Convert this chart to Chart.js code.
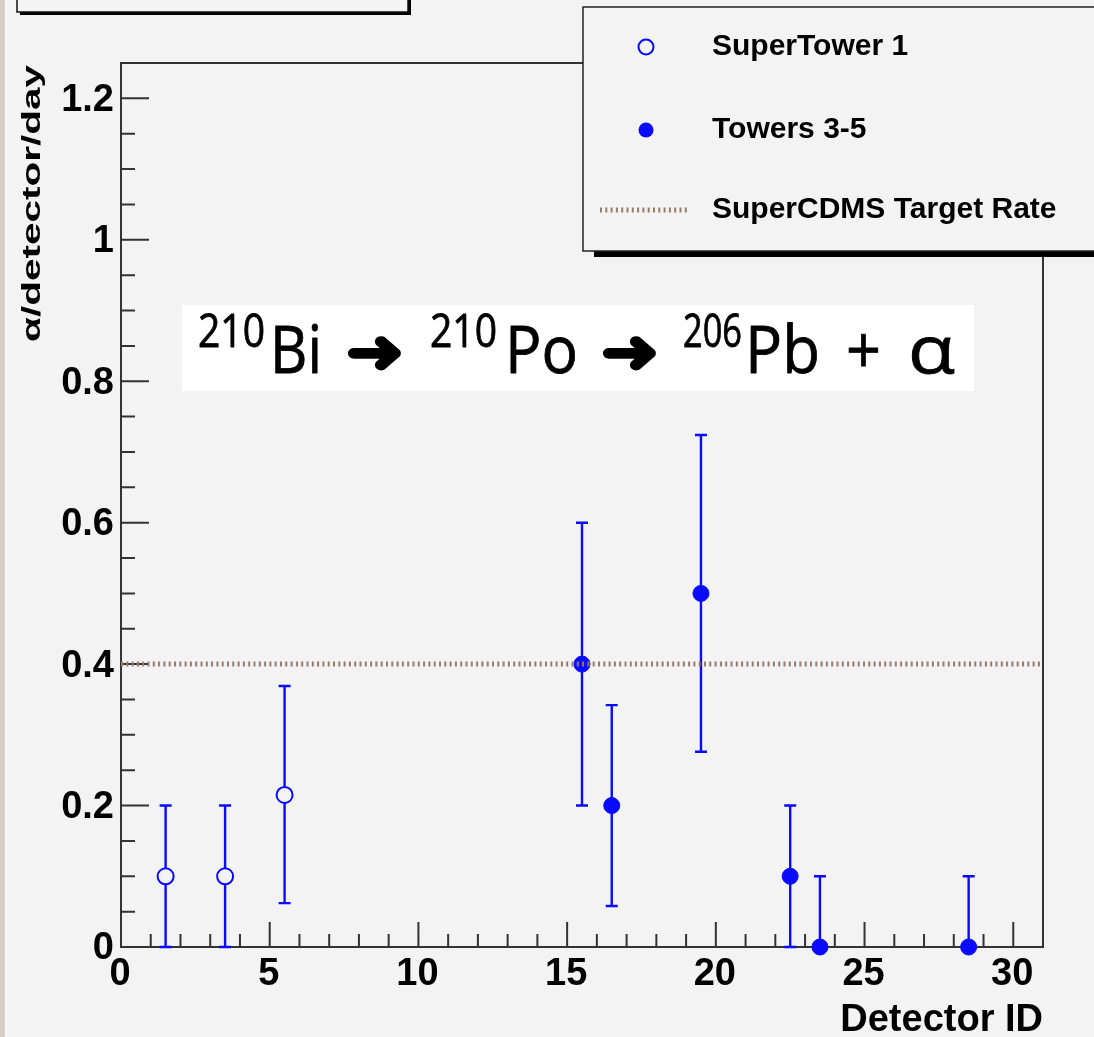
<!DOCTYPE html>
<html lang="en">
<head>
    <meta charset="UTF-8">
    <title>Alpha rates per detector</title>
    <script src="https://cdn.jsdelivr.net/npm/chart.js"></script>
    <style>
        html, body { margin: 0; padding: 0; background: #f3f3f3; }
        canvas { display: block; }
    </style>
</head>
<body>
    <canvas id="grafica" width="1094" height="1037"></canvas>

    <script>
        // datos
        const st1X = [1.5, 3.5, 5.5];
        const st1Y = [0.1, 0.1, 0.215];
        const st1ErrUp = [0.1, 0.1, 0.154];
        const st1ErrDown = [0.1, 0.1, 0.153];

        const t35X = [15.5, 16.5, 19.5, 22.5, 23.5, 28.5];
        const t35Y = [0.4, 0.2, 0.5, 0.1, 0, 0];
        const t35ErrUp = [0.2, 0.142, 0.224, 0.1, 0.1, 0.1];
        const t35ErrDown = [0.2, 0.142, 0.224, 0.1, 0, 0];

        const targetRate = 0.4;
        const xRange = [0, 31];
        const yRange = [0, 1.25];

        const xTicks = [0, 5, 10, 15, 20, 25, 30];
        const xTickLabels = ['0', '5', '10', '15', '20', '25', '30'];
        const yTicks = [0, 0.2, 0.4, 0.6, 0.8, 1, 1.2];
        const yTickLabels = ['0', '0.2', '0.4', '0.6', '0.8', '1', '1.2'];

        const legendLabels = ['SuperTower 1', 'Towers 3-5', 'SuperCDMS Target Rate'];

        const AZUL = '#0a0aff';
        const MARRON = '#9a7b68';
        const FONDO = '#f3f3f3';
        const HELV = '"Liberation Sans", Arial, sans-serif';

        const toPts = (xs, ys) => xs.map((x, i) => ({ x: x, y: ys[i] }));

        // texto ajustado a un ancho dado
        function textoAncho(ctx, txt, font, x, y, ancho, grosor) {
            ctx.save();
            ctx.font = font;
            const w = ctx.measureText(txt).width;
            ctx.translate(x, y);
            ctx.scale(ancho / w, 1);
            ctx.fillText(txt, 0, 0);
            if (grosor) {
                ctx.strokeStyle = ctx.fillStyle;
                ctx.lineWidth = grosor;
                ctx.lineJoin = 'round';
                ctx.strokeText(txt, 0, 0);
            }
            ctx.restore();
        }

        // barras de error, marco, ejes y textos estilo ROOT
        const rootStyle = {
            id: 'rootStyle',
            beforeDraw(chart) {
                const ctx = chart.ctx;
                ctx.save();
                ctx.fillStyle = FONDO;
                ctx.fillRect(0, 0, chart.width, chart.height);
                // borde de ventana a la izquierda
                ctx.fillStyle = '#d4d0c8';
                ctx.fillRect(0, 0, 5, chart.height);
                ctx.fillStyle = '#fbfbfb';
                ctx.fillRect(5, 0, 2, chart.height);
                ctx.restore();
            },
            beforeDatasetsDraw(chart) {
                const ctx = chart.ctx;
                const xs = chart.scales.x, ys = chart.scales.y;
                const a = chart.chartArea;
                ctx.save();

                // caja de texto de la reaccion
                ctx.fillStyle = '#ffffff';
                ctx.fillRect(182, 305, 792, 86);
                ctx.fillStyle = '#000';
                ctx.textBaseline = 'alphabetic';
                ctx.textAlign = 'left';
                const sup = '45px "Open Sans", Lato, sans-serif';
                const big = '66px "Open Sans", Lato, sans-serif';
                const piezas = [
                    ['210', sup, 198, 347, 67], ['Bi', big, 270, 373, 52],
                    ['210', sup, 430, 347, 67], ['Po', big, 505, 373, 73],
                    ['206', sup, 683, 347, 59], ['Pb', big, 745, 373, 75],
                    ['+', big, 846, 373, 35], ['\u03b1', big, 908, 373, 47]
                ];
                piezas.forEach(p => textoAncho(ctx, p[0], p[1], p[2], p[3], p[4], 0.8));
                textoAncho(ctx, '\u279c', 'bold 60px "DejaVu Sans"', 346, 372, 58, 3.5);
                textoAncho(ctx, '\u279c', 'bold 60px "DejaVu Sans"', 601, 372, 58, 3.5);

                // marco
                ctx.strokeStyle = '#333';
                ctx.lineWidth = 2;
                ctx.strokeRect(a.left, a.top, a.right - a.left, a.bottom - a.top);

                // marcas de los ejes (hacia dentro)
                ctx.beginPath();
                for (let v = 0; v <= xRange[1]; v += 1) {
                    const px = xs.getPixelForValue(v);
                    const len = v % 5 === 0 ? 25 : 13;
                    ctx.moveTo(px, a.bottom);
                    ctx.lineTo(px, a.bottom - len);
                }
                for (let k = 0; k * 0.05 <= yRange[1] + 1e-9; k++) {
                    const py = ys.getPixelForValue(k * 0.05);
                    const len = k % 4 === 0 ? 28 : 14;
                    ctx.moveTo(a.left, py);
                    ctx.lineTo(a.left + len, py);
                }
                ctx.stroke();

                // etiquetas de los ejes
                ctx.fillStyle = '#000';
                ctx.font = 'bold 38px ' + HELV;
                ctx.textAlign = 'center';
                ctx.textBaseline = 'middle';
                xTicks.forEach((v, i) => {
                    ctx.fillText(xTickLabels[i], xs.getPixelForValue(v) - 1, 975);
                });
                ctx.textAlign = 'right';
                yTicks.forEach((v, i) => {
                    ctx.fillText(yTickLabels[i], 114, ys.getPixelForValue(v) + 2);
                });

                // titulo eje x
                ctx.textBaseline = 'alphabetic';
                ctx.fillText('Detector ID', a.right, 1031);

                // titulo eje y (rotado y estirado)
                ctx.save();
                ctx.translate(40, 65);
                ctx.rotate(-Math.PI / 2);
                ctx.font = 'bold 25px ' + HELV;
                const w = ctx.measureText('\u03b1/detector/day').width;
                ctx.scale(277 / w, 1);
                ctx.textAlign = 'right';
                ctx.fillText('\u03b1/detector/day', 0, 0);
                ctx.restore();

                // barras de error
                ctx.strokeStyle = AZUL;
                ctx.lineWidth = 2.4;
                const barras = (xv, yv, up, down) => {
                    xv.forEach((x, i) => {
                        const px = xs.getPixelForValue(x);
                        const top = ys.getPixelForValue(yv[i] + up[i]);
                        const bot = ys.getPixelForValue(yv[i] - down[i]);
                        ctx.beginPath();
                        ctx.moveTo(px, top); ctx.lineTo(px, bot);
                        ctx.moveTo(px - 6, top); ctx.lineTo(px + 6, top);
                        ctx.moveTo(px - 6, bot); ctx.lineTo(px + 6, bot);
                        ctx.stroke();
                    });
                };
                barras(st1X, st1Y, st1ErrUp, st1ErrDown);
                barras(t35X, t35Y, t35ErrUp, t35ErrDown);
                ctx.restore();
            },
            afterDatasetsDraw(chart) {
                const ctx = chart.ctx;
                ctx.save();

                // caja del titulo (casi fuera de la imagen)
                ctx.fillStyle = '#000';
                ctx.fillRect(20, 12, 391, 3);
                ctx.fillRect(408, -5, 3, 20);
                ctx.strokeStyle = '#111';
                ctx.lineWidth = 1.5;
                ctx.strokeRect(17, -10, 391, 22);

                // leyenda
                ctx.fillStyle = '#000';
                ctx.fillRect(594, 251, 520, 6);
                ctx.fillStyle = FONDO;
                ctx.fillRect(583, 7, 530, 244);
                ctx.strokeStyle = '#222';
                ctx.lineWidth = 1.5;
                ctx.strokeRect(583, 7, 530, 244);

                ctx.lineWidth = 2;
                ctx.strokeStyle = AZUL;
                ctx.fillStyle = FONDO;
                ctx.beginPath();
                ctx.arc(646, 47, 7.5, 0, Math.PI * 2);
                ctx.fill(); ctx.stroke();
                ctx.fillStyle = AZUL;
                ctx.beginPath();
                ctx.arc(646, 130, 7.5, 0, Math.PI * 2);
                ctx.fill();

                ctx.strokeStyle = MARRON;
                ctx.lineWidth = 5;
                ctx.setLineDash([2, 3.3]);
                ctx.beginPath();
                ctx.moveTo(600, 210); ctx.lineTo(690, 210);
                ctx.stroke();
                ctx.setLineDash([]);

                ctx.fillStyle = '#000';
                ctx.font = 'bold 30px ' + HELV;
                ctx.textAlign = 'left';
                ctx.textBaseline = 'middle';
                [47, 130, 210].forEach((y, i) => ctx.fillText(legendLabels[i], 712, y));
                ctx.restore();
            }
        };

        new Chart(document.getElementById('grafica').getContext('2d'), {
            type: 'scatter',
            data: {
                datasets: [
                    {
                        label: legendLabels[2],
                        type: 'line',
                        data: [{ x: xRange[0], y: targetRate }, { x: xRange[1], y: targetRate }],
                        borderColor: MARRON,
                        borderWidth: 5,
                        borderDash: [2, 3.3],
                        pointRadius: 0,
                        fill: false,
                        clip: false
                    },
                    {
                        label: legendLabels[1],
                        data: toPts(t35X, t35Y),
                        pointRadius: 8,
                        pointBackgroundColor: AZUL,
                        pointBorderColor: AZUL,
                        pointBorderWidth: 1,
                        clip: false
                    },
                    {
                        label: legendLabels[0],
                        data: toPts(st1X, st1Y),
                        pointRadius: 8,
                        pointBackgroundColor: FONDO,
                        pointBorderColor: AZUL,
                        pointBorderWidth: 2,
                        clip: false
                    }
                ]
            },
            options: {
                responsive: false,
                animation: false,
                layout: { padding: { left: 121, top: 63, right: 51, bottom: 90 } },
                plugins: { legend: { display: false }, tooltip: { enabled: false } },
                scales: {
                    x: { type: 'linear', min: xRange[0], max: xRange[1], display: false },
                    y: { type: 'linear', min: yRange[0], max: yRange[1], display: false }
                }
            },
            plugins: [rootStyle]
        });
    </script>
</body>
</html>
